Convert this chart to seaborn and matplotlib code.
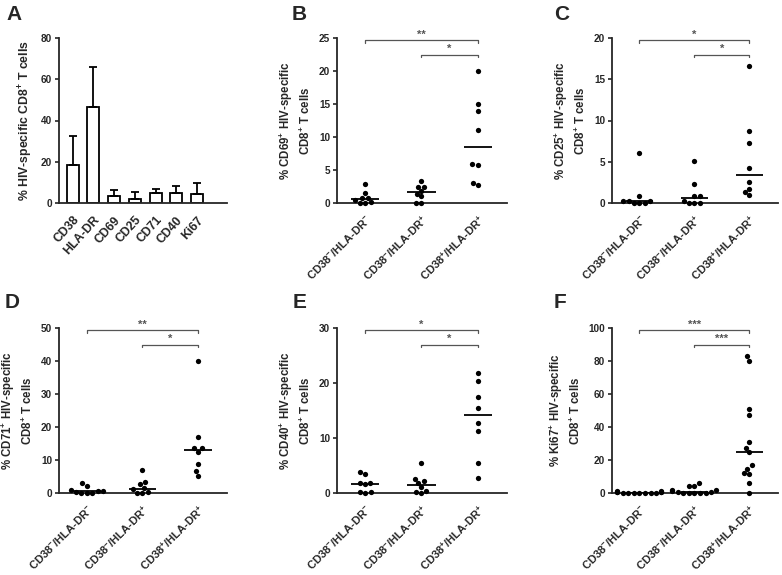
import matplotlib
matplotlib.use("Agg")
import matplotlib.pyplot as plt
import numpy as np
import pandas as pd
import seaborn as sns

# --- data ---
markers = ["CD38", "HLA-DR", "CD69", "CD25", "CD71", "CD40", "Ki67"]
marker_mean = [18.3, 46.7, 3.5, 2.1, 4.9, 5.0, 4.5]
marker_sd = [14.4, 19.0, 2.6, 3.3, 2.1, 3.2, 5.2]

groups = [r"CD38$^{-}$/HLA-DR$^{-}$", r"CD38$^{-}$/HLA-DR$^{+}$", r"CD38$^{+}$/HLA-DR$^{+}$"]

cd69_nn = [2.9, 1.5, 0.8, 0.7, 0.5, 0.1, 0.0, 0.0]
cd69_np = [3.4, 2.5, 2.4, 1.8, 1.4, 1.0, 0.0, 0.0]
cd69_pp = [20.0, 15.0, 13.9, 11.1, 5.9, 5.8, 3.0, 2.7]

cd25_nn = [6.1, 0.8, 0.3, 0.2, 0.2, 0.0, 0.0, 0.0]
cd25_np = [5.1, 2.3, 0.9, 0.9, 0.3, 0.0, 0.0, 0.0]
cd25_pp = [16.6, 8.7, 7.3, 4.2, 2.6, 1.7, 1.3, 1.0]

cd71_nn = [3.1, 2.1, 0.8, 0.6, 0.6, 0.4, 0.1, 0.0, 0.0]
cd71_np = [7.0, 3.3, 2.6, 1.5, 1.1, 0.3, 0.0, 0.0]
cd71_pp = [40.0, 17.0, 13.6, 13.5, 12.5, 8.9, 6.8, 5.3]

cd40_nn = [3.9, 3.4, 1.9, 1.8, 1.6, 0.2, 0.1, 0.0]
cd40_np = [5.4, 2.6, 2.1, 1.9, 1.1, 0.4, 0.1, 0.0]
cd40_pp = [21.8, 20.4, 17.4, 15.5, 12.8, 11.2, 5.5, 2.8]

ki67_nn = [1.2, 1.0, 0.8, 0.6, 0.5, 0.4, 0.3, 0.2, 0.1, 0.1, 0.0, 0.0, 0.0]
ki67_np = [6.0, 4.3, 4.2, 1.8, 1.6, 1.0, 0.8, 0.5, 0.3, 0.2, 0.1, 0.0, 0.0]
ki67_pp = [83.0, 80.0, 51.0, 47.0, 31.0, 27.5, 25.0, 16.9, 14.8, 12.4, 11.8, 6.3, 0.0]

# --- style ---
sns.set_style("ticks")
plt.rcParams["font.family"] = ["Liberation Sans", "DejaVu Sans"]
plt.rcParams["font.weight"] = "bold"
plt.rcParams["mathtext.fontset"] = "custom"
plt.rcParams["mathtext.rm"] = "Liberation Sans:bold"
plt.rcParams["mathtext.it"] = "Liberation Sans:bold"
plt.rcParams["mathtext.bf"] = "Liberation Sans:bold"
plt.rcParams["axes.linewidth"] = 1.3

fig = plt.figure(figsize=(7.82, 5.75), dpi=100)

W, H = 782, 575


def add_ax(x0, x1, y_top, y_bot):
    return fig.add_axes([x0 / W, (H - y_bot) / H, (x1 - x0) / W, (y_bot - y_top) / H])


def style_axis(ax, ymax, step):
    sns.despine(ax=ax)
    ax.set_ylim(0, ymax)
    ax.set_yticks(np.arange(0, ymax + step / 2, step))
    ax.tick_params(axis="y", labelsize=7.2, width=1.2, length=3, pad=2)
    ax.tick_params(axis="x", length=0, pad=7)
    for t in ax.get_yticklabels():
        t.set_fontweight("bold")
    ax.set_xlabel("")


# --- panel A: bar chart ---
axA = add_ax(59, 227, 38, 203)
df_a = pd.DataFrame({"marker": markers, "mean": marker_mean})
sns.barplot(data=df_a, x="marker", y="mean", ax=axA, color="white",
            edgecolor="black", linewidth=1.3, width=0.58, errorbar=None)
axA.errorbar(np.arange(len(markers)), marker_mean,
             yerr=[np.zeros(len(markers)), marker_sd], fmt="none",
             ecolor="black", elinewidth=1.3, capsize=3, capthick=1.3)
style_axis(axA, 80, 20)
axA.tick_params(axis="x", pad=8)
axA.set_xlim(-0.66, 7.45)
axA.set_xticks(range(len(markers)))
axA.set_xticklabels(markers, rotation=48, ha="right", rotation_mode="anchor",
                    fontsize=8.8, fontweight="bold")
axA.set_ylabel(r"% HIV-specific CD8$^{+}$ T cells", fontsize=8.8,
               fontweight="bold", labelpad=4)


def scatter_panel(ax, vals, ymax, step, ylabel, brackets):
    rows = []
    for g, v in zip(groups, vals):
        rows += [(g, x) for x in v]
    df = pd.DataFrame(rows, columns=["group", "value"])
    sns.swarmplot(data=df, x="group", y="value", order=groups, ax=ax,
                  color="black", size=3.8, zorder=3, clip_on=False)
    # median line only
    sns.boxplot(data=df, x="group", y="value", order=groups, ax=ax,
                showbox=False, showcaps=False, showfliers=False, whis=0,
                whiskerprops={"visible": False}, width=0.5,
                medianprops={"color": "black", "linewidth": 1.3}, zorder=4)
    style_axis(ax, ymax, step)
    ax.set_xlim(-0.5, 2.52)
    ax.set_xticks(range(3))
    ax.set_xticklabels(groups, rotation=45, ha="right", rotation_mode="anchor",
                       fontsize=8, fontweight="bold")
    ax.set_ylabel(ylabel, fontsize=8.3, fontweight="bold",
                  labelpad=4, linespacing=1.3)
    # significance brackets
    for (g0, g1, yfrac, stars) in brackets:
        y = ymax * yfrac
        d = ymax * 0.018
        ax.plot([g0, g0, g1, g1], [y - d, y, y, y - d], color="#555555",
                lw=0.9, clip_on=False)
        ax.text((g0 + g1) / 2, y + ymax * 0.004, stars, ha="center", va="bottom",
                fontsize=8, color="#555555")


axB = add_ax(337, 507, 38, 203)
scatter_panel(axB, [cd69_nn, cd69_np, cd69_pp], 25, 5,
              "% CD69$^{+}$ HIV-specific\nCD8$^{+}$ T cells",
              [(0, 2, 0.985, "**"), (1, 2, 0.90, "*")])

axC = add_ax(612, 778, 38, 203)
scatter_panel(axC, [cd25_nn, cd25_np, cd25_pp], 20, 5,
              "% CD25$^{+}$ HIV-specific\nCD8$^{+}$ T cells",
              [(0, 2, 0.985, "*"), (1, 2, 0.90, "*")])

axD = add_ax(59, 227, 328, 493)
scatter_panel(axD, [cd71_nn, cd71_np, cd71_pp], 50, 10,
              "% CD71$^{+}$ HIV-specific\nCD8$^{+}$ T cells",
              [(0, 2, 0.985, "**"), (1, 2, 0.90, "*")])

axE = add_ax(337, 507, 328, 493)
scatter_panel(axE, [cd40_nn, cd40_np, cd40_pp], 30, 10,
              "% CD40$^{+}$ HIV-specific\nCD8$^{+}$ T cells",
              [(0, 2, 0.985, "*"), (1, 2, 0.90, "*")])

axF = add_ax(612, 778, 328, 493)
scatter_panel(axF, [ki67_nn, ki67_np, ki67_pp], 100, 20,
              "% Ki67$^{+}$ HIV-specific\nCD8$^{+}$ T cells",
              [(0, 2, 0.985, "***"), (1, 2, 0.90, "***")])

# panel letters
for lab, x, y in [("A", 6, 5), ("B", 292, 5), ("C", 554, 5),
                  ("D", 5, 293), ("E", 293, 293), ("F", 554, 293)]:
    fig.text(x / W, 1 - y / H, lab, fontsize=15, fontweight="bold",
             va="top", ha="left")

fig.savefig("out.png", dpi=100)
